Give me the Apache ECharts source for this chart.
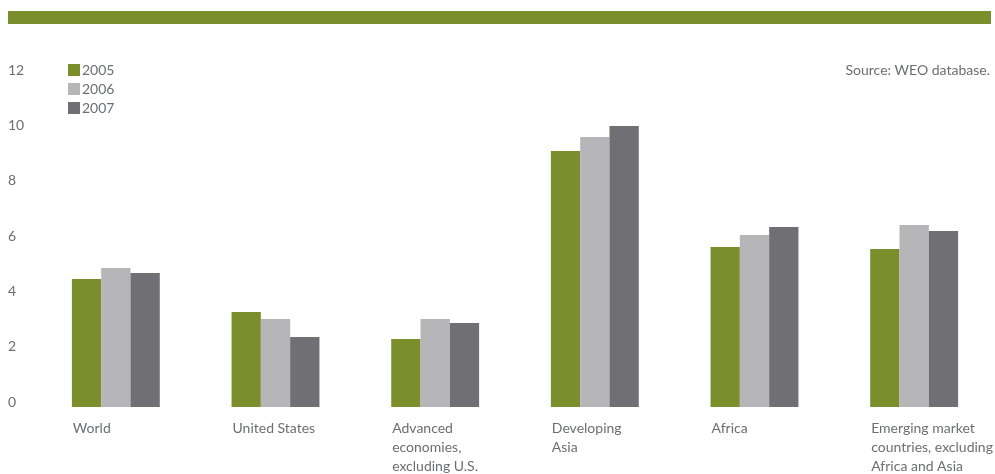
<!DOCTYPE html>
<html>
<head>
<meta charset="utf-8">
<script src="https://cdn.jsdelivr.net/npm/echarts@6/dist/echarts.min.js"></script>
<style>
html,body{margin:0;padding:0;background:#fff;}
#chart{width:995px;height:474px;}
</style>
</head>
<body>
<div id="chart"></div>
<script>
const categories = ['World', 'United States', 'Advanced\neconomies,\nexcluding U.S.', 'Developing\nAsia', 'Africa', 'Emerging market\ncountries, excluding\nAfrica and Asia'];
const seriesNames = ['2005', '2006', '2007'];
const values2005 = [4.63, 3.43, 2.46, 9.25, 5.78, 5.71];
const values2006 = [5.02, 3.18, 3.18, 9.76, 6.22, 6.58];
const values2007 = [4.84, 2.53, 3.04, 10.16, 6.51, 6.36];
const yTicks = [0, 2, 4, 6, 8, 10, 12];
const sourceNote = 'Source: WEO database.';

const colors = ['#7b8e2c', '#b6b6b8', '#706f73'];
const textColor = '#6d6e71';
const fontFamily = 'Lato, "Open Sans", sans-serif';

const chart = echarts.init(document.getElementById('chart'));
const allValues = [values2005, values2006, values2007];

chart.setOption({
  animation: false,
  color: colors,
  textStyle: { fontFamily: fontFamily },
  graphic: [
    { type: 'rect', left: 8, top: 11, shape: { width: 983, height: 13 }, style: { fill: '#7b8e2c' } },
    { type: 'text', right: 5, top: 63, style: { text: sourceNote, fill: textColor, font: '14px ' + fontFamily } }
  ],
  legend: {
    orient: 'vertical',
    left: 63,
    top: 58,
    itemWidth: 12,
    itemHeight: 12,
    itemGap: 5,
    icon: 'rect',
    textStyle: { color: textColor, fontSize: 14, fontFamily: fontFamily, padding: [0, 0, 0, -3] },
    data: seriesNames
  },
  grid: { left: 36, right: 1, top: 75, bottom: 67, containLabel: false, outerBoundsMode: 'none' },
  xAxis: {
    type: 'category',
    data: categories,
    axisLine: { show: false },
    axisTick: { show: false },
    axisLabel: {
      interval: 0,
      align: 'left',
      verticalAlign: 'top',
      margin: 12,
      lineHeight: 19,
      fontSize: 14,
      color: textColor,
      fontFamily: fontFamily,
      padding: [0, 0, 0, -43]
    }
  },
  yAxis: {
    type: 'value',
    min: yTicks[0],
    max: yTicks[yTicks.length - 1],
    interval: yTicks[1] - yTicks[0],
    axisLine: { show: false },
    axisTick: { show: false },
    splitLine: { show: false },
    axisLabel: {
      align: 'left',
      verticalAlign: 'bottom',
      lineHeight: 10,
      margin: 28,
      fontSize: 14,
      color: textColor,
      fontFamily: fontFamily
    }
  },
  series: seriesNames.map((name, i) => ({
    name: name,
    type: 'bar',
    data: allValues[i],
    barWidth: 29.3,
    barGap: '0%',
    itemStyle: { color: colors[i] }
  }))
});
</script>
</body>
</html>
